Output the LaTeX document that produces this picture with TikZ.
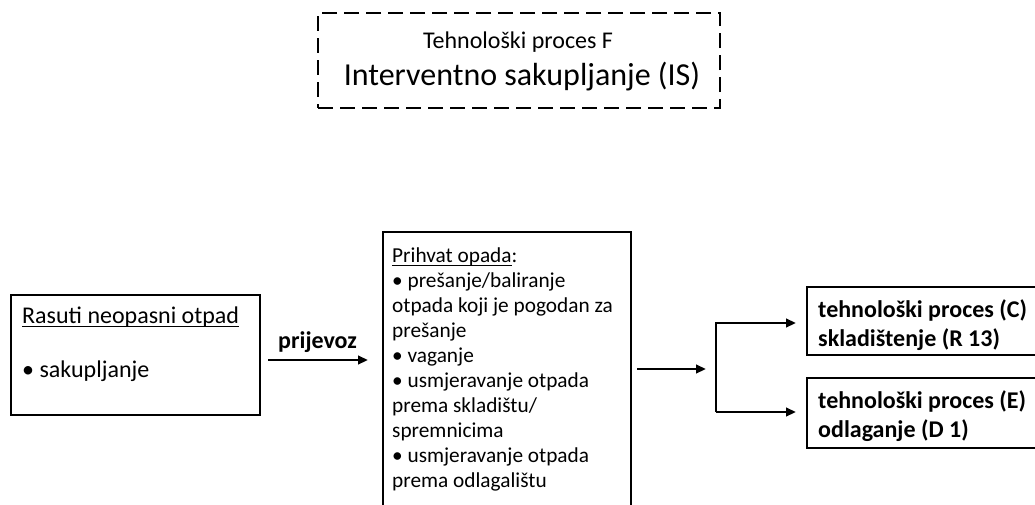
\documentclass[tikz,border=0pt]{standalone}
\usepackage{fontspec}
\setmainfont{Carlito}
\usetikzlibrary{arrows.meta}
\newcommand\myul[1]{\setbox0\hbox{#1}\rlap{\rule[-4pt]{\wd0}{1.5pt}}\box0}
\begin{document}
\begin{tikzpicture}[x=1pt,y=-1pt,
  box/.style={draw, line width=2.8pt, inner sep=0pt, outer sep=0pt, anchor=north west},
  dashbox/.style={box, dash pattern=on 15pt off 7pt},
  txt/.style={inner sep=0pt, anchor=base west},
  ctxt/.style={inner sep=0pt, anchor=base},
  body/.style={font=\fontsize{24}{29}\selectfont},
  mid/.style={font=\fontsize{21.3}{25}\selectfont},
  bigt/.style={font=\fontsize{32}{38}\selectfont},
  boldt/.style={font=\fontsize{24}{29}\selectfont\bfseries},
  arr/.style={line width=2.4pt, -{Triangle[length=10pt,width=8.5pt]}}]
\useasboundingbox (0,0) rectangle (1035,504);
\fill[white] (0,0) rectangle (1035,504);
\clip (0,0) rectangle (1035,504);

% title
\node[dashbox, minimum width=402pt, minimum height=95pt] (title) at (318,13) {};
\node[ctxt, body] (t1) at (518,48) {Tehnološki proces F};
\node[ctxt, bigt] (t2) at (522,85) {Interventno sakupljanje (IS)};

% left box
\node[box, minimum width=249pt, minimum height=120pt] (left) at (11,295) {};
\node[txt, body] (l1) at (22,323) {\myul{Rasuti neopasni otpad}};
\node[txt, body] (l2) at (22,377) {• sakupljanje};

% transport
\node[txt, boldt] (prij) at (278,348) {prijevoz};
\coordinate (p1) at (268,360);
\coordinate (p2) at (368,360);
\draw[arr] (p1) -- (p2);

% middle box
\node[box, minimum width=248pt, minimum height=290pt] (mbox) at (383,232) {};
\node[txt, mid] (m0) at (392,262.0) {\myul{Prihvat opada}:};
\node[txt, mid] (m1) at (392,287.1) {• prešanje/baliranje};
\node[txt, mid] (m2) at (392,312.2) {otpada koji je pogodan za};
\node[txt, mid] (m3) at (392,337.3) {prešanje};
\node[txt, mid] (m4) at (392,362.4) {• vaganje};
\node[txt, mid] (m5) at (392,387.5) {• usmjeravanje otpada};
\node[txt, mid] (m6) at (392,412.6) {prema skladištu/};
\node[txt, mid] (m7) at (392,437.7) {spremnicima};
\node[txt, mid] (m8) at (392,462.8) {• usmjeravanje otpada};
\node[txt, mid] (m9) at (392,487.9) {prema odlagalištu};

% branch
\coordinate (q1) at (637,369);
\coordinate (q2) at (706,369);
\draw[arr] (q1) -- (q2);
\coordinate (jt) at (716,323);
\coordinate (jb) at (716,412);
\coordinate (ta) at (796,323);
\coordinate (ba) at (796,412);
\draw[arr, line join=miter] (jb) -- (jt) -- (ta);
\draw[arr] (jb) -- (ba);

% right boxes
\node[box, minimum width=250pt, minimum height=68pt] (rc) at (807,287) {};
\node[txt, boldt] (rc1) at (818,317) {tehnološki proces (C)};
\node[txt, boldt] (rc2) at (818,346) {skladištenje (R 13)};
\node[box, minimum width=250pt, minimum height=70pt] (re) at (807,378) {};
\node[txt, boldt] (re1) at (818,408) {tehnološki proces (E)};
\node[txt, boldt] (re2) at (818,437) {odlaganje (D 1)};
\end{tikzpicture}
\end{document}
